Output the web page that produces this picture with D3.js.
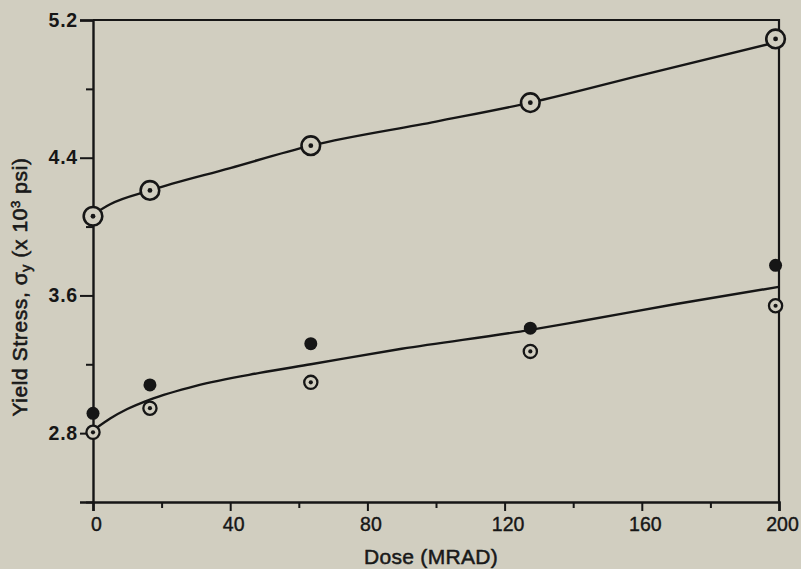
<!DOCTYPE html>
<html><head><meta charset="utf-8">
<script src="https://cdn.jsdelivr.net/npm/d3@7"></script>
<style>
html,body{margin:0;padding:0;background:#d1cec0;}
svg{display:block;}
text{font-family:"Liberation Sans",Arial,sans-serif;fill:#1a1a1a;}
</style></head><body>
<svg id="c" width="801" height="569"></svg>
<script>
// ---- data ----
const doses = [0, 16.6, 63.5, 127.5, 199];
const upperOpen = [4.06, 4.21, 4.47, 4.72, 5.09];
const lowerOpen = [2.805, 2.945, 3.095, 3.275, 3.54];
const lowerFilled = [2.915, 3.08, 3.32, 3.41, 3.775];
const upperCurveX = [0, 5, 16.6, 40, 63.5, 100, 127.5, 160, 199];
const upperCurveY = [4.07, 4.13, 4.21, 4.34, 4.47, 4.61, 4.72, 4.88, 5.07];
const lowerCurveX = [1, 5, 10, 16.6, 30, 48.6, 63.5, 90, 127.5, 142, 170, 200];
const lowerCurveY = [2.83, 2.885, 2.94, 2.995, 3.075, 3.15, 3.2, 3.29, 3.4, 3.45, 3.55, 3.65];
const xMajor = [0, 40, 80, 120, 160, 200];
const xMinor = [20, 60, 100, 140, 180];
const yMajor = [2.8, 3.6, 4.4, 5.2];
const yMinor = [2.4, 3.2, 4.0, 4.8];

const svg = d3.select("#c");
const x = d3.scaleLinear().domain([0, 200]).range([93, 779]);
const y = d3.scaleLinear().domain([2.4, 5.2]).range([502, 20]);
const ink = "#161616";
const bg = "#d1cec0";

// frame top/right
svg.append("path").attr("d", `M${x(0)},${y(5.2)}H${x(200)}V${y(2.4)}`)
  .attr("fill","none").attr("stroke",ink).attr("stroke-width",2.2);

// x axis
const gx = svg.append("g").attr("transform",`translate(0,${y(2.4)})`)
  .call(d3.axisBottom(x).tickValues(xMajor).tickSize(9).tickPadding(6).tickFormat(d3.format("d")));
gx.select(".domain").attr("stroke",ink).attr("stroke-width",2.6);
gx.selectAll(".tick line").attr("stroke",ink).attr("stroke-width",2);
gx.selectAll("text").attr("font-size",19.5).style("fill",ink).attr("dx",3)
  .attr("stroke",ink).attr("stroke-width",0.4);
svg.append("g").attr("transform",`translate(0,${y(2.4)})`)
  .call(d3.axisBottom(x).tickValues(xMinor).tickSize(6).tickFormat(""))
  .call(g=>{g.select(".domain").remove();g.selectAll("line").attr("stroke",ink).attr("stroke-width",2);});

// y axis
const gy = svg.append("g").attr("transform",`translate(${x(0)},0)`)
  .call(d3.axisLeft(y).tickValues(yMajor).tickSize(13).tickPadding(2).tickFormat(d3.format(".1f")));
gy.select(".domain").attr("stroke",ink).attr("stroke-width",2.4);
gy.selectAll(".tick line").attr("stroke",ink).attr("stroke-width",2);
gy.selectAll("text").attr("font-size",19.5).style("fill",ink).attr("font-weight","bold").attr("letter-spacing",0.8);
svg.append("g").attr("transform",`translate(${x(0)},0)`)
  .call(d3.axisLeft(y).tickValues(yMinor).tickSize(7).tickFormat(""))
  .call(g=>{g.select(".domain").remove();g.selectAll("line").attr("stroke",ink).attr("stroke-width",2);});

// curves
const line = d3.line().curve(d3.curveMonotoneX);
svg.append("path").attr("d", line(upperCurveX.map((d,i)=>[x(d), y(upperCurveY[i])])))
  .attr("fill","none").attr("stroke",ink).attr("stroke-width",2.4);
svg.append("path").attr("d", line(lowerCurveX.map((d,i)=>[x(d), y(lowerCurveY[i])])))
  .attr("fill","none").attr("stroke",ink).attr("stroke-width",2.4);

// markers
function ring(vals, r, sw, dot) {
  const g = svg.append("g");
  g.selectAll("circle.o").data(doses).join("circle")
    .attr("cx",d=>x(d)).attr("cy",(d,i)=>y(vals[i])).attr("r",r)
    .attr("fill",bg).attr("stroke",ink).attr("stroke-width",sw);
  g.selectAll("circle.d").data(doses).join("circle")
    .attr("cx",d=>x(d)).attr("cy",(d,i)=>y(vals[i])).attr("r",dot).attr("fill",ink);
}
ring(upperOpen, 9.3, 2.6, 2.4);
ring(lowerOpen, 6.6, 2.3, 2.1);
svg.append("g").selectAll("circle").data(doses).join("circle")
  .attr("cx",d=>x(d)).attr("cy",(d,i)=>y(lowerFilled[i])).attr("r",6.5).attr("fill",ink);

// labels
svg.append("text").attr("x",431).attr("y",564).attr("text-anchor","middle")
  .attr("font-size",21).attr("letter-spacing",0.3).attr("stroke",ink).attr("stroke-width",0.5)
  .text("Dose (MRAD)");
const yl = svg.append("text").attr("transform","translate(27,287) rotate(-90)")
  .attr("text-anchor","middle").attr("font-size",21).attr("letter-spacing",0.6)
  .attr("stroke",ink).attr("stroke-width",0.6);
yl.append("tspan").text("Yield Stress, σ");
yl.append("tspan").attr("font-size",14).attr("dy",4).text("y");
yl.append("tspan").attr("dy",-4).text(" (x 10");
yl.append("tspan").attr("font-size",13).attr("dy",-7).text("3");
yl.append("tspan").attr("dy",7).text(" psi)");
</script>
</body></html>
